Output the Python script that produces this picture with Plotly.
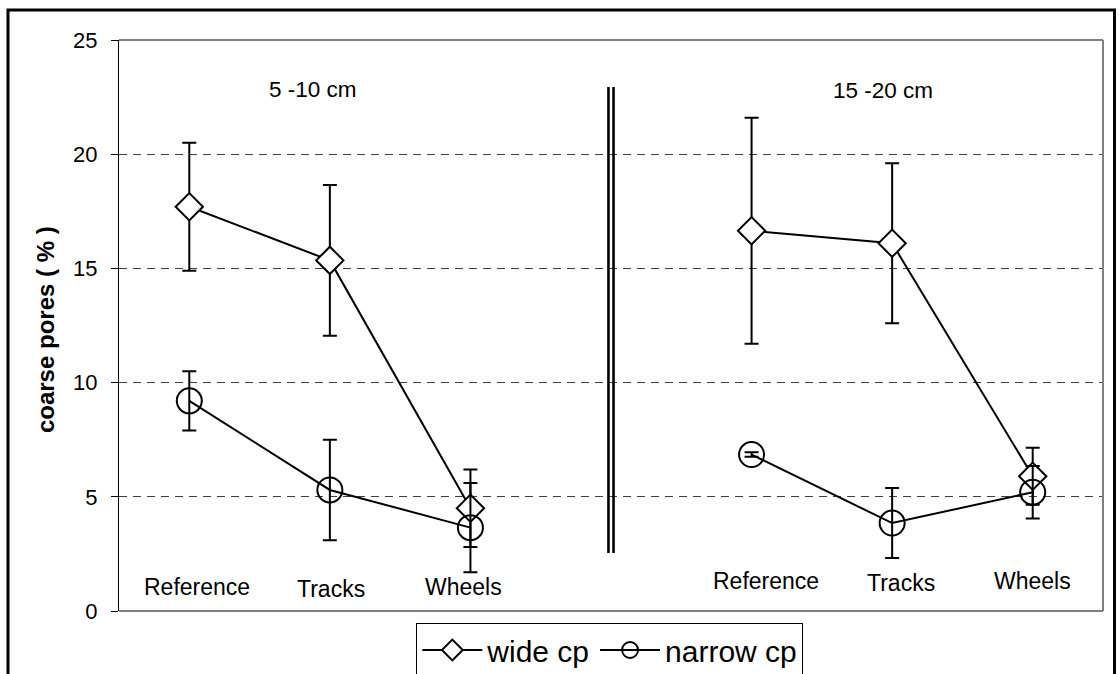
import plotly.graph_objects as go

# Treatments within each soil depth, and the depth headings
treatments = ["Reference", "Tracks", "Wheels"]
depths = ["5 -10 cm", "15 -20 cm"]

# Coarse pore volume (%) with standard deviations, per depth
wide_5_10 = [17.7, 15.35, 4.5]
wide_5_10_sd = [2.8, 3.3, 1.7]
wide_15_20 = [16.65, 16.1, 5.9]
wide_15_20_sd = [4.95, 3.5, 1.25]

narrow_5_10 = [9.2, 5.3, 3.65]
narrow_5_10_sd = [1.3, 2.2, 1.95]
narrow_15_20 = [6.85, 3.85, 5.2]
narrow_15_20_sd = [0.1, 1.53, 1.15]

y_ticks = [0, 5, 10, 15, 20, 25]

FONT = "Liberation Sans, Arial, sans-serif"

# x slots: 0..2 first depth, 3 empty separator, 4..6 second depth
x_pos = list(range(7))


def join(a, b):
    return list(a) + [None] + list(b)


fig = go.Figure()

fig.add_trace(go.Scatter(
    x=x_pos, y=join(wide_5_10, wide_15_20),
    name="wide cp", mode="lines+markers", connectgaps=False,
    line=dict(color="black", width=2),
    marker=dict(symbol="diamond", size=21, color="white",
                line=dict(color="black", width=2)),
    error_y=dict(type="data", array=join(wide_5_10_sd, wide_15_20_sd),
                 visible=True, color="black", thickness=2, width=7),
))

fig.add_trace(go.Scatter(
    x=x_pos, y=join(narrow_5_10, narrow_15_20),
    name="narrow cp", mode="lines+markers", connectgaps=False,
    line=dict(color="black", width=2),
    marker=dict(symbol="circle-open", size=25,
                line=dict(color="black", width=2), color="black"),
    error_y=dict(type="data", array=join(narrow_5_10_sd, narrow_15_20_sd),
                 visible=True, color="black", thickness=2, width=7),
))

# Treatment labels inside the plot, near the bottom of each depth block
label_dx = [0.055, 0.01, -0.05]
label_y = [[1.05, 0.96, 1.05], [1.31, 1.23, 1.31]]
annotations = []
for g in range(2):
    for i, t in enumerate(treatments):
        annotations.append(dict(
            x=g * 4 + i + label_dx[i] + (0.05 if g == 1 else 0),
            y=label_y[g][i], xref="x", yref="y", text=t, showarrow=False,
            font=dict(family=FONT, size=23, color="black"),
            xanchor="center", yanchor="middle"))

# Depth headings
for g, (dx, dy) in enumerate([(0.88, 22.85), (4.935, 22.81)]):
    annotations.append(dict(
        x=dx, y=dy, xref="x", yref="y", text=depths[g], showarrow=False,
        font=dict(family=FONT, size=22.5, color="black"),
        xanchor="center", yanchor="middle"))

# Y axis title
annotations.append(dict(
    x=-0.0752, y=0.492, xref="paper", yref="paper",
    text="<b>coarse pores ( % )</b>", textangle=-90, showarrow=False,
    font=dict(family=FONT, size=24, color="black"),
    xanchor="center", yanchor="middle"))

shapes = [
    # plot frame (top, right, bottom) in grey
    dict(type="line", xref="paper", yref="paper", x0=0, x1=1, y0=1, y1=1,
         line=dict(color="#808080", width=2), layer="above"),
    dict(type="line", xref="paper", yref="paper", x0=1, x1=1, y0=0, y1=1,
         line=dict(color="#808080", width=2), layer="above"),
    dict(type="line", xref="paper", yref="paper", x0=0, x1=1, y0=0, y1=0,
         line=dict(color="#808080", width=2), layer="above"),
    # double separator between the two depths
    dict(type="line", xref="x", yref="y", x0=2.982, x1=2.982, y0=2.54, y1=22.94,
         line=dict(color="black", width=2.6), layer="above"),
    dict(type="line", xref="x", yref="y", x0=3.018, x1=3.018, y0=2.54, y1=22.94,
         line=dict(color="black", width=2.6), layer="above"),
    # outer border of the figure
    dict(type="rect", xref="paper", yref="paper", x0=-0.1128, x1=1.0117,
         y0=-0.2, y1=1.0525, line=dict(color="black", width=3),
         fillcolor="rgba(0,0,0,0)", layer="above"),
]

fig.update_layout(
    width=1120, height=674,
    margin=dict(l=119, r=17, t=40, b=63, autoexpand=False),
    paper_bgcolor="white", plot_bgcolor="white",
    font=dict(family=FONT, color="black"),
    showlegend=True,
    legend=dict(orientation="h", x=0.5445, xanchor="center",
                xref="container", yref="container", y=1 - 623 / 674,
                yanchor="top", bordercolor="black", borderwidth=1,
                bgcolor="white", font=dict(family=FONT, size=30, color="black"),
                itemwidth=60),
    xaxis=dict(range=[-0.5, 6.5], showgrid=False, zeroline=False,
               showticklabels=False, ticks="", showline=False),
    yaxis=dict(range=[0, 25], tickvals=y_ticks, ticks="outside", ticklen=7,
               tickcolor="black", tickwidth=1, showline=True,
               linecolor="black", linewidth=1, zeroline=False,
               showgrid=True, gridcolor="#404040", gridwidth=1,
               griddash="8px,6px", ticklabelstandoff=9,
               tickfont=dict(family=FONT, size=22, color="black")),
    annotations=annotations,
    shapes=shapes,
)

fig.write_html("out.html")
